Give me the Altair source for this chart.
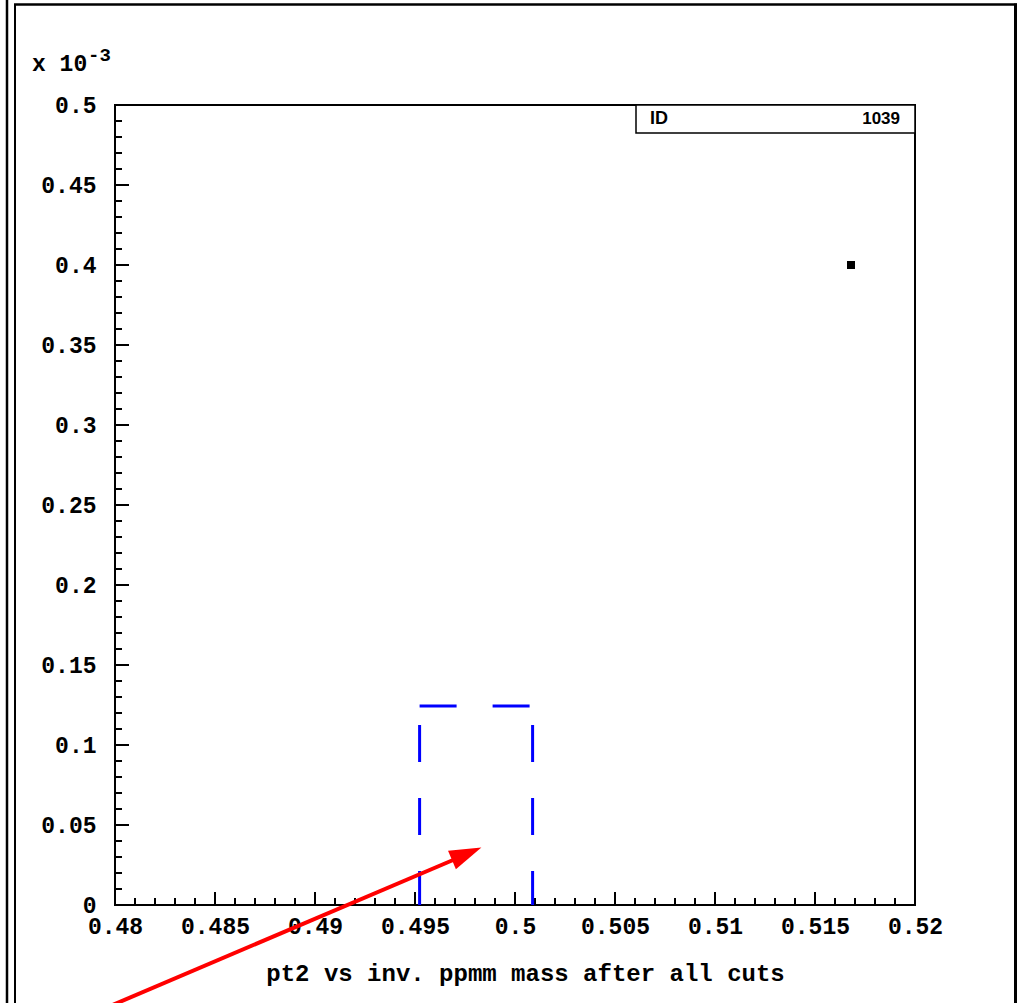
import altair as alt
import pandas as pd

# ---- data ----
x_major = [0.48, 0.485, 0.49, 0.495, 0.5, 0.505, 0.51, 0.515, 0.52]
y_major = [0.0, 0.05, 0.1, 0.15, 0.2, 0.25, 0.3, 0.35, 0.4, 0.45, 0.5]
x_minor = [round(0.48 + i * 0.001, 4) for i in range(41) if i % 5 != 0]
y_minor = [round(i * 0.01, 3) for i in range(51) if i % 5 != 0]

point_x = [0.5168]
point_y = [0.4]

box_left = 0.49523
box_right = 0.50088
box_top = 0.1243

arrow_start = (0.479465, -0.06469)
arrow_base = (0.496965, 0.02844)
arrow_tip = (0.49832, 0.03594)

x_title = "pt2 vs inv. ppmm mass after all cuts"
exp_main = "x 10"
exp_sup = "-3"
id_label = "ID"
id_value = "1039"

MONO = "Liberation Mono"
SANS = "Liberation Sans"

xs = alt.Scale(domain=[0.48, 0.52], nice=False, zero=False)
ys = alt.Scale(domain=[0, 0.5], nice=False, zero=False)

W, H = 800, 800

xaxis = alt.Axis(values=x_major, format="~g", grid=False, domain=False,
                 ticks=False, tickSize=0, labelPadding=10,
                 labelFont=MONO, labelFontWeight="bold", labelFontSize=23,
                 labelColor="black", labelOverlap=False, labelFlush=False,
                 labelBound=False, labelBaseline="top",
                 title=x_title, titleFont=MONO, titleFontWeight="bold",
                 titleFontSize=24, titleColor="black", titleX=410, titleY=75,
                 titleAlign="center", titleBaseline="alphabetic")
yaxis = alt.Axis(values=y_major, format="~g", grid=False, domain=False,
                 ticks=False, tickSize=0, labelPadding=19,
                 labelFont=MONO, labelFontWeight="bold", labelFontSize=23,
                 labelColor="black", labelOverlap=False, labelFlush=False,
                 labelBound=False, labelBaseline="middle", title=None)


def X(f):
    return alt.X(f, scale=xs, axis=xaxis)


def Y(f):
    return alt.Y(f, scale=ys, axis=yaxis)


# base layer: data point
pts = pd.DataFrame({"x": point_x, "y": point_y})
base = alt.Chart(pts).mark_square(size=64, color="black", opacity=1, filled=True).encode(
    x=X("x:Q"), y=Y("y:Q"))

# ticks (inward)
xmaj = alt.Chart(pd.DataFrame({"x": x_major})).mark_rule(color="black", strokeWidth=2).encode(
    x=X("x:Q"), y=alt.value(H), y2=alt.value(H - 13))
xmin = alt.Chart(pd.DataFrame({"x": x_minor})).mark_rule(color="black", strokeWidth=2).encode(
    x=X("x:Q"), y=alt.value(H), y2=alt.value(H - 7))
ymaj = alt.Chart(pd.DataFrame({"y": y_major})).mark_rule(color="black", strokeWidth=2).encode(
    y=Y("y:Q"), x=alt.value(0), x2=alt.value(14))
ymin = alt.Chart(pd.DataFrame({"y": y_minor})).mark_rule(color="black", strokeWidth=2).encode(
    y=Y("y:Q"), x=alt.value(0), x2=alt.value(7))

# blue dashed box
vdf = pd.DataFrame({"x": [box_left, box_right], "y": [0.0, 0.0], "y2": [box_top, box_top]})
blue_v = alt.Chart(vdf).mark_rule(color="#0000ff", strokeWidth=3, strokeDash=[37, 36],
                                  strokeDashOffset=3, strokeCap="butt").encode(
    x=X("x:Q"), y=Y("y:Q"), y2="y2:Q")
hdf = pd.DataFrame({"x": [box_left], "x2": [box_right], "y": [box_top]})
blue_h = alt.Chart(hdf).mark_rule(color="#0000ff", strokeWidth=3, strokeDash=[37, 36],
                                  strokeCap="butt").encode(
    x=X("x:Q"), x2="x2:Q", y=Y("y:Q"))

# red arrow
adf = pd.DataFrame({"x": [arrow_start[0]], "y": [arrow_start[1]],
                    "x2": [arrow_base[0]], "y2": [arrow_base[1]]})
arrow_line = alt.Chart(adf).mark_rule(color="#ff0000", strokeWidth=4, strokeCap="butt").encode(
    x=X("x:Q"), y=Y("y:Q"), x2="x2:Q", y2="y2:Q")
hdf2 = pd.DataFrame({"x": [arrow_tip[0]], "y": [arrow_tip[1]]})
arrow_head = alt.Chart(hdf2).mark_point(shape="M0,0L1,3.2L-1,3.2Z", size=400, filled=True,
                                        fill="#ff0000", strokeWidth=0, opacity=1,
                                        angle=66.9).encode(
    x=X("x:Q"), y=Y("y:Q"))

one = pd.DataFrame({"a": [0]})

# exponent label
exp1 = alt.Chart(one).mark_text(text=exp_main, font=MONO, fontWeight="bold", fontSize=23,
                                align="left", baseline="alphabetic", color="black").encode(
    x=alt.value(-83), y=alt.value(-34))
exp2 = alt.Chart(one).mark_text(text=exp_sup, font=MONO, fontWeight="bold", fontSize=19,
                                align="left", baseline="alphabetic", color="black").encode(
    x=alt.value(-27), y=alt.value(-44))

# stats box
idbox = alt.Chart(one).mark_rect(fill="white", stroke="black", strokeWidth=1.5).encode(
    x=alt.value(521), x2=alt.value(W), y=alt.value(0), y2=alt.value(28))
idtxt = alt.Chart(one).mark_text(text=id_label, font=SANS, fontWeight="bold", fontSize=18,
                                 align="left", baseline="middle", color="black").encode(
    x=alt.value(535), y=alt.value(14))
idval = alt.Chart(one).mark_text(text=id_value, font=SANS, fontWeight="bold", fontSize=17,
                                 align="right", baseline="middle", color="black").encode(
    x=alt.value(785), y=alt.value(14))

# outer canvas frame lines
f1 = alt.Chart(one).mark_rule(color="black", strokeWidth=2.5).encode(
    x=alt.value(-108), y=alt.value(-110), y2=alt.value(900))
f2 = alt.Chart(one).mark_rule(color="black", strokeWidth=2).encode(
    x=alt.value(-100), y=alt.value(-100.5), y2=alt.value(900))
f3 = alt.Chart(one).mark_rule(color="black", strokeWidth=2.5).encode(
    x=alt.value(-101), x2=alt.value(902), y=alt.value(-100.5))
f4 = alt.Chart(one).mark_rule(color="black", strokeWidth=3).encode(
    x=alt.value(900.5), y=alt.value(-101.5), y2=alt.value(900))

chart = alt.layer(
    base, xmaj, xmin, ymaj, ymin, blue_v, blue_h, arrow_line, arrow_head,
    exp1, exp2, idbox, idtxt, idval, f1, f2, f3, f4
).properties(
    width=W, height=H,
    autosize=alt.AutoSizeParams(type="none"),
    padding={"left": 115, "top": 105, "right": 104, "bottom": 98},
    background="white",
).configure_view(stroke="black", strokeWidth=2)

chart.save("out.html", embed_options={"renderer": "svg", "actions": False})
